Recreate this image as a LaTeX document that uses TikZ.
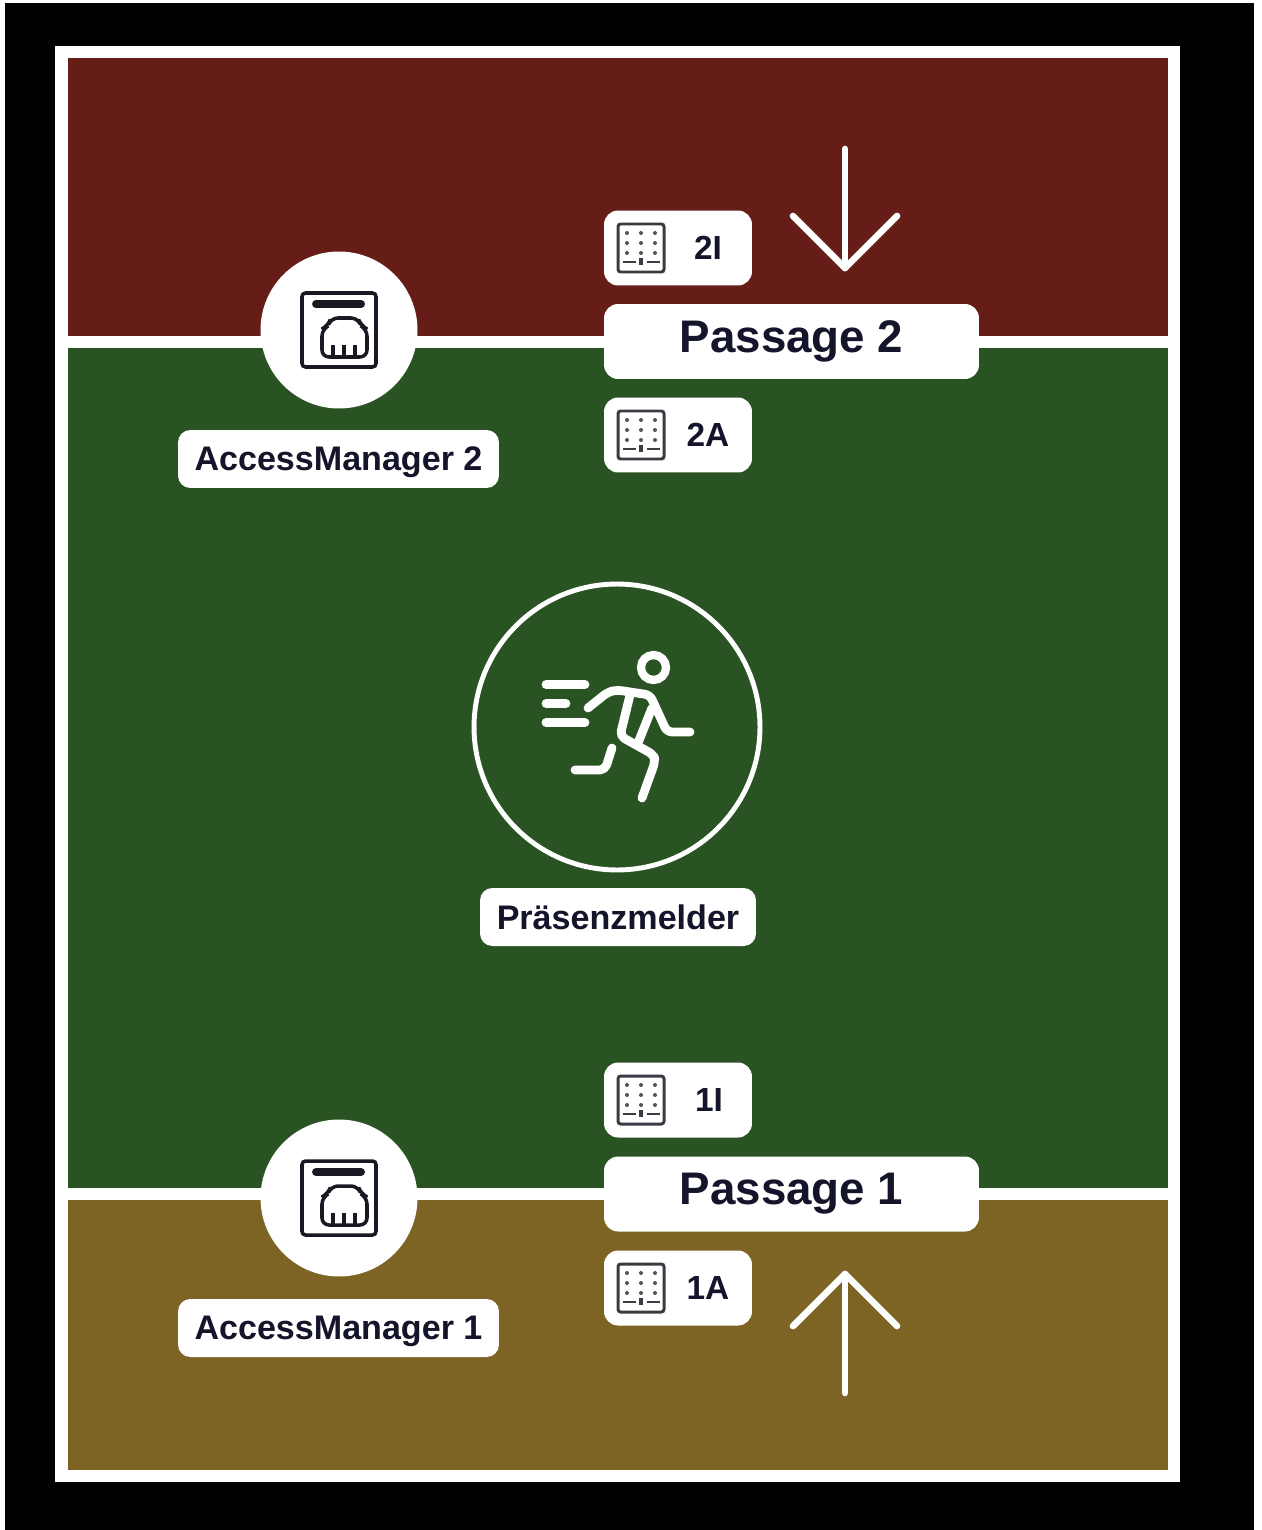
\documentclass[tikz,border=0pt]{standalone}
\usepackage{xcolor}
\usepackage{fontspec}
\setmainfont{Liberation Sans}
\usepackage{tikz}
\usetikzlibrary{positioning, calc}
\definecolor{zonered}{RGB}{102,29,24}
\definecolor{zonegreen}{RGB}{42,83,35}
\definecolor{zoneolive}{RGB}{125,100,37}
\definecolor{labeldark}{RGB}{20,20,43}
\definecolor{icondark}{RGB}{25,25,35}
\tikzset{
  tagbox/.style={rectangle, fill=white, rounded corners=7pt, text=labeldark, font=\fontsize{19.4}{20}\selectfont\bfseries,
    minimum height=1.16cm, text depth=0pt, inner sep=0pt},
  passbox/.style={rectangle, fill=white, rounded corners=8pt, text=labeldark, font=\fontsize{26}{28}\selectfont\bfseries,
    minimum width=7.5cm, minimum height=1.5cm, inner sep=0pt},
  keybox/.style={rectangle, fill=white, rounded corners=8pt, minimum width=2.96cm, minimum height=1.5cm, inner sep=0pt},
  keytext/.style={text=labeldark, font=\fontsize{19}{20}\selectfont\bfseries, inner sep=0pt},
  readerdisc/.style={circle, fill=white, minimum size=3.14cm, inner sep=0pt},
  sensorring/.style={circle, draw=white, line width=2.8pt, minimum size=5.72cm, inner sep=0pt},
  wall/.style={white, line width=6.8pt},
  arrowline/.style={white, line width=3.8pt, line cap=round, line join=round},
  runnerline/.style={white, line width=5pt, line cap=round, line join=round, rounded corners=3pt},
  iconline/.style={icondark, line width=2pt, rounded corners=2pt}
}
\newcommand{\keypadicon}[2]{
  \begin{scope}[shift={(#1,#2)}]
    \draw[icondark!85, line width=1.7pt, rounded corners=1.5pt] (-23,-24) rectangle (23,24);
    \foreach \kx in {-14,0,14} {
      \foreach \ky in {-15,-5,5} {
        \fill[icondark!75] (\kx,\ky) circle (2);
      }
    }
    \draw[icondark!85, line width=1.2pt] (-18,14) -- (-5,14) (6,14) -- (19,14);
    \fill[icondark!85] (-2,10) rectangle (2,17);
  \end{scope}
}
\newcommand{\porticon}[2]{
  \begin{scope}[shift={(#1,#2)}]
    \draw[iconline] (-37,-37) rectangle (37,37);
    \draw[icondark, line width=4.5pt, line cap=round] (-23,-26) -- (22,-26);
    \draw[iconline, rounded corners=4pt] (-17,27) -- (-17,-1) -- (-11,-4) -- (-8,-12) -- (19,-12) -- (22,-4) -- (28,-1) -- (28,27) -- cycle;
    \foreach \px in {-6,5,16} {
      \draw[icondark, line width=2pt] (\px,27) -- (\px,15);
    }
  \end{scope}
}
\begin{document}
\begin{tikzpicture}[x=0.02cm, y=-0.02cm]
  \useasboundingbox (0,0) rectangle (1261,1530);
  \fill[black] (5,3) rectangle (1254,1530);
  \fill[white] (55,46) rectangle (1180,1482);

  % Zones
  \fill[zonered] (68,58) rectangle (1168,342);
  \fill[zonegreen] (68,342) rectangle (1168,1194);
  \fill[zoneolive] (68,1194) rectangle (1168,1470);

  % Walls between the zones
  \coordinate (wall2l) at (68,342);
  \coordinate (wall2r) at (1168,342);
  \coordinate (wall1l) at (68,1194);
  \coordinate (wall1r) at (1168,1194);
  \draw[wall] (wall2l) -- (wall2r);
  \draw[wall] (wall1l) -- (wall1r);

  % Passages
  \node[passbox] (pass2) at (791.5,341.5) {Passage 2};
  \node[passbox] (pass1) at (791.5,1194) {Passage 1};

  % Readers beside the passages
  \node[keybox] (key2i) at (678,248) {};
  \node[keybox] (key2a) at (678,435) {};
  \node[keybox] (key1i) at (678,1100) {};
  \node[keybox] (key1a) at (678,1288) {};
  \node[keytext] (txt2i) at (708,248) {2I};
  \node[keytext] (txt2a) at (708,435) {2A};
  \node[keytext] (txt1i) at (709,1100) {1I};
  \node[keytext] (txt1a) at (708,1288) {1A};
  \foreach \kyy in {248,435,1100,1288} {
    \keypadicon{641}{\kyy}
  }

  % Access managers
  \node[readerdisc] (am2) at (339,330) {};
  \node[readerdisc] (am1) at (339,1198) {};
  \porticon{339}{330}
  \porticon{339}{1198}
  \node[tagbox, minimum width=6.42cm] (am2tag) at (338.5,459) {AccessManager 2};
  \node[tagbox, minimum width=6.42cm] (am1tag) at (338.5,1328) {AccessManager 1};

  % Direction arrows
  \coordinate (down0) at (845,149);
  \coordinate (down1) at (845,268);
  \coordinate (up0) at (845,1393);
  \coordinate (up1) at (845,1274);
  \draw[arrowline] (down0) -- (down1);
  \draw[arrowline] (793,216) -- (down1) -- (897,216);
  \draw[arrowline] (up0) -- (up1);
  \draw[arrowline] (793,1326) -- (up1) -- (897,1326);

  % Presence sensor
  \node[sensorring] (sensor) at (617,727) {};
  \node[tagbox, minimum width=5.52cm] (sensortag) at (618,917) {Präsenzmelder};
  \draw[white, line width=4.7pt] (653.5,667.5) circle (12.5);
  \draw[runnerline] (546,684.5) -- (585,684.5);
  \draw[runnerline] (546,703.5) -- (566,703.5);
  \draw[runnerline] (546,722.5) -- (585,722.5);
  \draw[runnerline] (588,708) -- (608,692) -- (617,690) -- (650,695) -- (667,732) -- (690,732);
  \draw[runnerline] (630,695) -- (620,736) -- (654,755) -- (655,762) -- (642,798);
  \draw[runnerline] (652,708) -- (638,743);
  \draw[runnerline] (612,748) -- (605,770) -- (575,770);
\end{tikzpicture}
\end{document}
